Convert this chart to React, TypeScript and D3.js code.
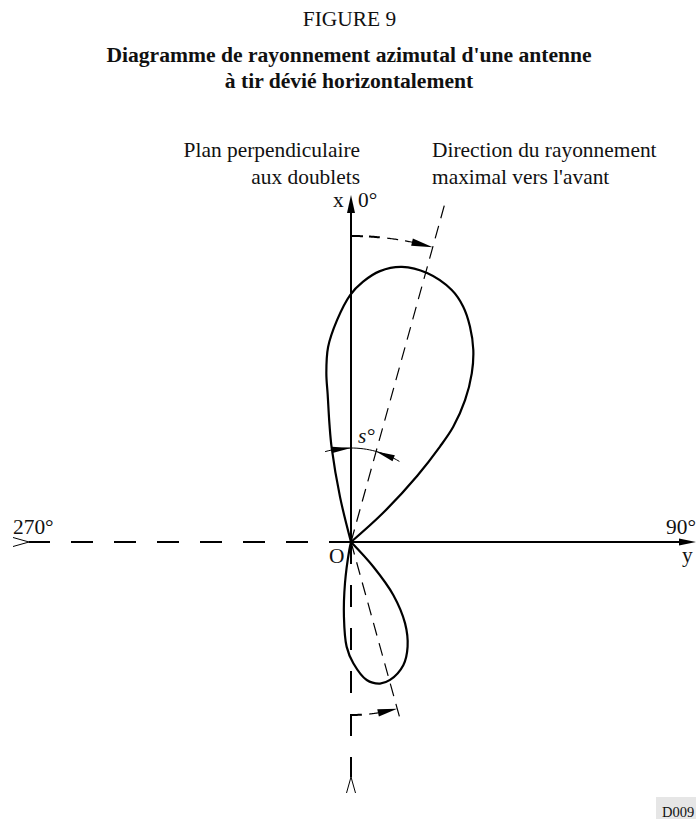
import React from "react";
import * as d3 from "d3";

// Polar readings of the two lobes: azimuth in degrees, radius in % of the main lobe's maximum
const mainLobeAzimuth = [47.8, 45.0, 43.0, 41.6, 38.8, 35.6, 32.5, 28.9, 25.5, 21.8, 15.8, 10.5, 6.1, 2.6, -0.2, -3.6, -6.7, -8.3, -9.0, -10.4, -11.6, -13.7];
const mainLobeRadius = [15.4, 33.5, 46.6, 55.0, 65.0, 74.1, 81.3, 87.9, 93.1, 96.9, 99.8, 99.9, 97.3, 93.0, 88.2, 79.4, 70.1, 61.0, 53.2, 42.5, 34.3, 16.5];
const backLobeAzimuth = [137.9, 141.4, 146.4, 151.6, 157, 164.2, 168.4, 173.5, 178.9, 182.4, 185.4, 188.3, 192];
const backLobeRadius = [11.9, 24.2, 34.9, 42.5, 47.8, 51.2, 51.6, 49.6, 43.3, 37.4, 26.8, 14.9, 2.9];

const tiltDeg = 15.5;
const titleLines = ["Diagramme de rayonnement azimutal d'une antenne", "à tir dévié horizontalement"];
const planLabel = ["Plan perpendiculaire", "aux doublets"];
const directionLabel = ["Direction du rayonnement", "maximal vers l'avant"];

const cx = 351;
const cy = 542;
const font = "'Liberation Serif', serif";
const r = d3.scaleLinear().domain([0, 100]).range([0, 280]);
const rad = (d: number) => (d * Math.PI) / 180;
const pt = (az: number, v: number): [number, number] => [
  cx + r(v) * Math.sin(rad(az)),
  cy - r(v) * Math.cos(rad(az)),
];

const radial = d3
  .lineRadial<[number, number]>()
  .angle((d) => rad(d[0]))
  .radius((d) => r(d[1]));

function lobePath(az: number[], rs: number[]) {
  const pts: [number, number][] = [[az[0], 0], ...az.map((a, i) => [a, rs[i]] as [number, number]), [az[az.length - 1], 0]];
  return radial.curve(d3.curveCatmullRom.alpha(0.5))(pts) as string;
}

function arcPath(a0: number, a1: number, v: number) {
  const pts = d3.range(0, 25).map((i) => [a0 + ((a1 - a0) * i) / 24, v] as [number, number]);
  return radial.curve(d3.curveLinear)(pts) as string;
}

// Filled arrowhead whose tip lies at az/v and whose body lies along the arc towards azBase
function ArcHead({ az, azBase, v, half }: { az: number; azBase: number; v: number; half: number }) {
  const [tx, ty] = pt(az, v);
  const [bx, by] = pt(azBase, v);
  const dx = bx - tx;
  const dy = by - ty;
  const len = Math.hypot(dx, dy);
  const nx = (-dy / len) * half;
  const ny = (dx / len) * half;
  return <polygon points={`${tx},${ty} ${bx + nx},${by + ny} ${bx - nx},${by - ny}`} fill="#000" />;
}

export default function App() {
  const T = { fontFamily: font, fontSize: 21.4, fill: "#111" } as const;
  const vUp = 347 / 2.8;
  const vRight = 345 / 2.8;
  const vLeft = 322 / 2.8;
  const vDown = 235 / 2.8;
  const upper = pt(tiltDeg, 352 / 2.8);
  const lower = pt(180 - tiltDeg, 189 / 2.8);
  const topArc = 306 / 2.8;
  const botArc = 173 / 2.8;
  const sArc = 94 / 2.8;
  const leftTip = pt(-90, vLeft);
  const downTip = pt(180, vDown);
  const dirEnd = pt(90, vRight);
  const upEnd = pt(0, vUp);
  return (
    <svg width={696} height={819} viewBox="0 0 696 819" style={{ position: "absolute", left: 0, top: 0, display: "block", background: "#fff" }}>
      <text x={349.5} y={26} textAnchor="middle" {...T}>FIGURE 9</text>
      {titleLines.map((t, i) => (
        <text key={t} x={349} y={62 + i * 26} textAnchor="middle" {...T} fontSize={21.6} fontWeight="bold">{t}</text>
      ))}
      {planLabel.map((t, i) => (
        <text key={t} x={360} y={157 + i * 27} textAnchor="end" {...T}>{t}</text>
      ))}
      {directionLabel.map((t, i) => (
        <text key={t} x={432} y={157 + i * 27} {...T}>{t}</text>
      ))}
      <text x={333} y={207} {...T}>x</text>
      <text x={358} y={207} {...T}>0°</text>
      <text x={329} y={563} {...T}>O</text>
      <text x={13} y={534} {...T}>270°</text>
      <text x={696} y={534} textAnchor="end" {...T}>90°</text>
      <text x={682} y={562} {...T}>y</text>
      <text x={358} y={443} {...T} fontStyle="italic">s°</text>
      <rect x={656} y={797} width={40} height={22} fill="#e6e6e6" />
      <text x={662} y={816.5} fontFamily={font} fontSize={14.5} fill="#111">D009</text>

      {/* axes */}
      <g stroke="#000" strokeWidth={2} fill="none">
        <line x1={cx} y1={cy} x2={upEnd[0]} y2={upEnd[1] + 10} />
        <line x1={cx} y1={cy} x2={dirEnd[0] - 10} y2={dirEnd[1]} />
        <line x1={cx} y1={cy} x2={leftTip[0]} y2={leftTip[1]} strokeDasharray="22 21" />
        <line x1={cx} y1={cy} x2={downTip[0]} y2={downTip[1]} strokeDasharray="22 21" />
      </g>
      <polygon points={`${upEnd[0]},${upEnd[1]} ${upEnd[0] + 4},${upEnd[1] + 18} ${upEnd[0] - 4},${upEnd[1] + 18}`} fill="#000" />
      <polygon points={`${dirEnd[0]},${dirEnd[1]} ${dirEnd[0] - 17},${dirEnd[1] + 3.5} ${dirEnd[0] - 17},${dirEnd[1] - 3.5}`} fill="#000" />
      <g stroke="#000" strokeWidth={1} fill="none">
        <polyline points={`${leftTip[0] - 16},${leftTip[1] - 4.5} ${leftTip[0]},${leftTip[1]} ${leftTip[0] - 16},${leftTip[1] + 4.5}`} />
        <polyline points={`${downTip[0] - 4.5},${downTip[1] + 16} ${downTip[0]},${downTip[1]} ${downTip[0] + 4.5},${downTip[1] + 16}`} />
      </g>

      {/* tilted direction */}
      <g stroke="#000" strokeWidth={1.2}>
        <line x1={cx} y1={cy} x2={upper[0]} y2={upper[1]} strokeDasharray="13 8" />
        <line x1={cx} y1={cy} x2={lower[0]} y2={lower[1]} strokeDasharray="13 8" />
      </g>

      {/* lobes */}
      <g transform={`translate(${cx},${cy})`} fill="none" stroke="#000" strokeWidth={2.2} strokeLinejoin="round">
        <path d={lobePath(mainLobeAzimuth, mainLobeRadius)} />
        <path d={lobePath(backLobeAzimuth, backLobeRadius)} />
      </g>

      {/* angle arcs */}
      <g transform={`translate(${cx},${cy})`} fill="none" stroke="#000">
        <path d={arcPath(0, 5.4, topArc)} strokeWidth={2} strokeDasharray="12 6" />
        <path d={arcPath(6.8, 12, topArc)} strokeWidth={1.2} strokeDasharray="11 7" />
        <path d={arcPath(180, 176.4, botArc)} strokeWidth={2} />
        <path d={arcPath(174, 171, botArc)} strokeWidth={1.2} />
        <path d={arcPath(-16, 31, sArc)} strokeWidth={1} />
      </g>
      <ArcHead az={tiltDeg} azBase={11.5} v={topArc} half={3.8} />
      <ArcHead az={180 - tiltDeg} azBase={171} v={botArc} half={3.8} />
      <ArcHead az={0} azBase={-11.5} v={sArc} half={3.2} />
      <ArcHead az={tiltDeg} azBase={27} v={sArc} half={3.2} />
    </svg>
  );
}
